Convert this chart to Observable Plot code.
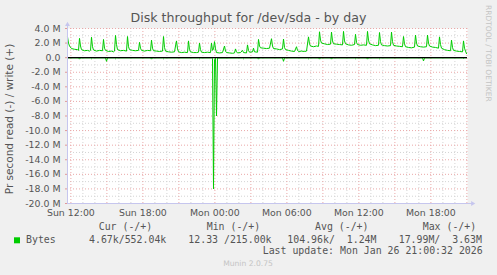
<!DOCTYPE html>
<html><head><meta charset="utf-8">
<script src="https://cdn.jsdelivr.net/npm/d3@7"></script>
<script src="https://cdn.jsdelivr.net/npm/@observablehq/plot@0.6"></script>
<style>
html,body{margin:0;padding:0;background:#f0f0f0;}
#chart{width:497px;height:275px;overflow:hidden;}
</style></head><body><div id="chart"></div>
<script>
// ---- data (5-minute samples, index 0 = window start) ----
const START = "2026-01-25T11:43:00Z";
const STEP_MINUTES = 5;
const SAMPLES = 400;

// write (+) series, MB/s
const writeIdx = [
  0,1,2,4,7,10,11,
  12,13,14,17,20,22,23,
  24,25,26,29,32,35,
  36,37,38,41,44,46,47,
  48,49,50,53,56,59,
  60,61,62,65,68,71,
  72,73,74,77,80,83,
  84,85,86,89,92,95,
  96,97,98,101,104,107,
  108,109,110,111,114,117,120,
  121,122,123,126,129,131,
  132,133,134,137,140,143,
  144,145,146,147,148,149,152,155,
  157,158,159,162,165,167,
  168,169,170,173,175,176,179,
  180,181,182,185,186,187,190,
  191,192,193,196,199,202,
  204,205,206,209,212,215,
  216,217,218,221,224,227,
  229,230,231,234,237,239,
  241,242,243,246,249,251,
  252,253,254,257,260,263,
  264,265,266,269,272,275,
  276,277,278,281,284,287,
  288,289,290,293,296,299,
  300,301,302,305,308,311,
  312,313,314,317,320,323,
  324,325,326,329,332,335,
  336,337,338,341,344,347,
  348,349,350,353,356,359,
  360,361,362,365,368,371,
  372,373,374,377,380,383,
  384,385,386,389,392,395,
  396,397,398,399
];
const writeVal = [
  2.86,2.0,1.6,1.25,1.15,1.1,1.0,
  2.65,1.6,1.1,0.95,1.0,0.9,1.0,
  2.8,1.5,1.05,0.9,1.0,0.95,
  2.5,1.3,1.0,0.85,0.9,0.8,0.9,
  3.05,1.8,1.1,0.95,1.0,0.9,
  2.9,1.5,1.1,1.0,0.95,1.0,
  2.1,1.3,1.0,0.9,1.0,0.95,
  2.4,1.3,0.95,0.9,0.85,0.9,
  2.9,1.4,0.9,0.8,0.75,0.8,
  1.6,2.3,1.2,0.8,0.7,0.75,0.7,
  2.3,1.1,0.8,0.7,0.7,0.75,
  2.0,1.1,0.75,0.7,0.75,0.7,
  2.0,1.0,1.2,2.2,1.2,0.7,0.65,0.7,
  1.6,0.9,0.7,0.65,0.6,0.65,
  1.2,0.8,0.65,0.7,1.0,0.7,0.65,
  1.75,1.0,0.75,0.8,1.3,0.8,0.75,
  2.5,1.6,1.35,1.3,1.25,1.3,
  2.6,1.6,1.25,1.2,1.1,1.2,
  2.55,1.4,1.1,1.0,0.9,0.85,
  1.5,1.0,0.85,0.9,0.85,0.9,
  2.85,1.9,1.6,1.5,1.6,1.55,
  3.55,2.4,2.0,1.9,1.8,1.85,
  3.5,2.3,1.9,1.85,1.8,1.75,
  3.6,2.3,1.9,1.75,1.7,1.8,
  3.2,2.1,1.8,1.7,1.75,1.7,
  3.6,2.4,1.9,1.75,1.65,1.7,
  3.45,2.2,1.75,1.65,1.6,1.65,
  3.5,2.2,1.7,1.6,1.55,1.5,
  2.9,1.9,1.5,1.4,1.35,1.45,
  3.1,2.0,1.6,1.5,1.45,1.5,
  3.1,2.0,1.6,1.45,1.4,1.3,
  2.85,1.8,1.3,1.1,1.0,0.95,
  2.4,1.4,1.0,0.9,0.85,0.8,
  2.3,1.3,0.9,0.55
];

// read (-) series, MB/s (drawn negative)
const readIdx = [
  0,
  11,12,13, 23,24,25, 38,39,40, 47,48,49, 83,84,85, 95,96,97, 131,132,133,
  144,145,146,147,148,149,150,
  175,176,177, 190,191,192, 215,216,217, 240,241,242, 251,252,253, 263,264,265,
  287,288,289, 299,300,301, 311,312,313, 355,356,357, 395,396,397,
  399
];
const readVal = [
  -0.03,
  -0.03,-0.2,-0.03, -0.03,-0.15,-0.03, -0.03,-0.5,-0.03, -0.03,-0.15,-0.03, -0.03,-0.2,-0.03, -0.03,-0.15,-0.03, -0.03,-0.15,-0.03,
  -0.03,-0.1,-17.99,-0.3,-0.05,-8.0,-0.05,
  -0.03,-0.15,-0.03, -0.03,-0.2,-0.03, -0.03,-0.5,-0.03, -0.03,-0.15,-0.03, -0.03,-0.2,-0.03, -0.03,-0.2,-0.03,
  -0.03,-0.15,-0.03, -0.03,-0.2,-0.03, -0.03,-0.15,-0.03, -0.03,-0.45,-0.03, -0.03,-0.1,-0.03,
  -0.005
];

const yTicks = [4,2,0,-2,-4,-6,-8,-10,-12,-14,-16,-18,-20];
const xTickTimes = ["2026-01-25T12:00:00Z","2026-01-25T18:00:00Z","2026-01-26T00:00:00Z","2026-01-26T06:00:00Z","2026-01-26T12:00:00Z","2026-01-26T18:00:00Z"];
const xTickLabels = ["Sun 12:00","Sun 18:00","Mon 00:00","Mon 06:00","Mon 12:00","Mon 18:00"];

const TITLE = "Disk throughput for /dev/sda - by day";
const Y_LABEL = "Pr second read (-) / write (+)";
const SIDE_TEXT = "RRDTOOL / TOBI OETIKER";
const legendHeads = ["Cur (-/+)","Min (-/+)","Avg (-/+)","Max (-/+)"];
const legendName = "Bytes";
const legendValues = ["4.67k/552.04k","12.33 /215.00k","104.96k/  1.24M","17.99M/  3.63M"];
const lastUpdate = "Last update: Mon Jan 26 21:00:32 2026";
const footer = "Munin 2.0.75";

// ---- build ----
const t0 = new Date(START);
const toTime = i => new Date(+t0 + i * STEP_MINUTES * 60000);
const tEnd = toTime(SAMPLES);
const write = writeIdx.map((i, k) => ({t: toTime(i), v: writeVal[k]}));
const read = readIdx.map((i, k) => ({t: toTime(i), v: readVal[k]}));

const hours = d3.utcHour.range(t0, tEnd);
const majorX = hours.filter(d => d.getUTCHours() % 3 === 0);
const minorX = hours.filter(d => d.getUTCHours() % 3 !== 0);
const majorY = d3.range(-20, 4.01, 2).filter(v => v !== 0 && v !== -20);
const minorY = d3.range(-19, 4, 2);
const tickDates = xTickTimes.map(s => new Date(s));

const RED = "#eaa8a8", GREY = "#d4d4d4", AXIS = "#c6c6ee";

const chart = Plot.plot({
  width: 497, height: 275,
  marginLeft: 67, marginRight: 30, marginTop: 28, marginBottom: 72,
  style: {background: "#f0f0f0", fontFamily: "DejaVu Sans", fontSize: "9.4px", color: "#555", overflow: "visible"},
  x: {type: "utc", domain: [t0, tEnd]},
  y: {domain: [-20, 4]},
  marks: [
    Plot.frame({fill: "white", stroke: null}),
    Plot.ruleY(minorY, {stroke: GREY, strokeDasharray: "1,2"}),
    Plot.ruleX(minorX, {stroke: GREY, strokeDasharray: "1,2"}),
    Plot.ruleY(majorY, {stroke: RED, strokeDasharray: "1,2"}),
    Plot.ruleX(majorX, {stroke: RED, strokeDasharray: "1,2"}),
    Plot.line(write, {x: "t", y: "v", stroke: "#00cc00", strokeWidth: 1}),
    Plot.line(read, {x: "t", y: "v", stroke: "#00cc00", strokeWidth: 1}),
    Plot.ruleY([0], {stroke: "black", strokeWidth: 1.4}),
    Plot.ruleX([t0], {y1: -20, y2: 4.6, stroke: AXIS}),
    Plot.ruleY([-20], {x1: t0, x2: new Date(+tEnd + 25 * 60000), stroke: AXIS}),
    Plot.dot([0], {frameAnchor: "top-left", dy: -4, symbol: "triangle", r: 1.8, fill: AXIS, stroke: null}),
    Plot.dot([0], {frameAnchor: "bottom-right", dx: 5, symbol: "triangle", rotate: 90, r: 1.8, fill: AXIS, stroke: null}),
    Plot.axisY({ticks: yTicks, tickFormat: d => d === 0 ? "0.0" : d.toFixed(1) + " M", tickSize: 2, tickPadding: 5, stroke: "#e09a9a", label: null}),
    Plot.axisX({ticks: tickDates, tickFormat: (d, i) => xTickLabels[i], tickSize: 0, tickPadding: 6, label: null})
  ]
});

const svg = d3.select(chart);
svg.append("text").attr("x", 248.5).attr("y", 22).attr("text-anchor", "middle")
  .attr("font-size", "12.6px").attr("fill", "#555").text(TITLE);
svg.append("text").attr("transform", "translate(13,119) rotate(-90)").attr("text-anchor", "middle")
  .attr("font-size", "10.5px").attr("fill", "#555").text(Y_LABEL);
svg.append("text").attr("transform", "translate(486,5) rotate(90)").attr("text-anchor", "start")
  .attr("font-size", "7.5px").attr("fill", "#c4c4c4").text(SIDE_TEXT);

const mono = svg.append("g").attr("font-family", "DejaVu Sans Mono").attr("font-size", "9.9px")
  .attr("fill", "#555").attr("text-anchor", "start");
const monoText = (x, y, s) => mono.append("text").attr("x", x).attr("y", y)
  .attr("xml:space", "preserve").style("white-space", "pre").text(s);
const headX = [98.7, 206.7, 315, 422.7];
legendHeads.forEach((s, k) => monoText(headX[k], 230, s));
svg.append("rect").attr("x", 14).attr("y", 237.3).attr("width", 6).attr("height", 6).attr("fill", "#00cc00");
monoText(26, 242.5, legendName);
const valX = [89, 188.3, 287.3, 398.7];
legendValues.forEach((s, k) => monoText(valX[k], 242.5, s));
monoText(482.7, 254, lastUpdate).attr("text-anchor", "end");
svg.append("text").attr("x", 248).attr("y", 266).attr("text-anchor", "middle")
  .attr("font-size", "7.6px").attr("fill", "#c4c4c4").text(footer);

document.getElementById("chart").appendChild(chart);
</script></body></html>
